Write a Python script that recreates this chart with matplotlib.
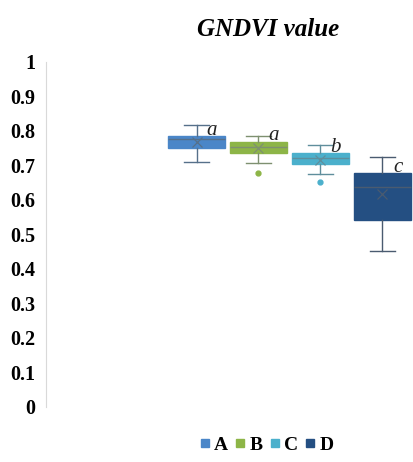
import matplotlib
matplotlib.use("Agg")
import matplotlib.pyplot as plt
from matplotlib.lines import Line2D

# Box-plot summaries for each group
groups = ["A", "B", "C", "D"]
whisker_low = [0.708, 0.707, 0.674, 0.452]
q1 = [0.749, 0.734, 0.703, 0.541]
median = [0.775, 0.752, 0.720, 0.636]
q3 = [0.785, 0.768, 0.734, 0.677]
whisker_high = [0.817, 0.785, 0.759, 0.723]
means = [0.766, 0.750, 0.715, 0.616]
outliers = [[], [0.678], [0.650], []]
letters = ["a", "a", "b", "c"]
y_ticks = [0, 0.1, 0.2, 0.3, 0.4, 0.5, 0.6, 0.7, 0.8, 0.9, 1]
y_tick_labels = ["0", "0.1", "0.2", "0.3", "0.4", "0.5", "0.6", "0.7", "0.8", "0.9", "1"]

fill_colors = ["#4a86c8", "#8db547", "#4bb0cc", "#244f82"]
line_colors = ["#56708a", "#7e9070", "#5f8e9c", "#4a5b70"]

fig = plt.figure(figsize=(4.14, 4.62), dpi=100)
ax = fig.add_axes([46 / 414, 55.3 / 462, 368 / 414, 345 / 462])

positions = [1, 2, 3, 4]
for i, g in enumerate(groups):
    stats = [dict(label=g, whislo=whisker_low[i], q1=q1[i], med=median[i],
                  q3=q3[i], whishi=whisker_high[i], mean=means[i],
                  fliers=outliers[i])]
    ax.bxp(stats, positions=[positions[i]], widths=0.92, patch_artist=True,
           showmeans=True, showfliers=True,
           boxprops=dict(facecolor=fill_colors[i], edgecolor=fill_colors[i],
                         linewidth=1.0),
           medianprops=dict(color=line_colors[i], linewidth=1.0),
           whiskerprops=dict(color=line_colors[i], linewidth=1.0),
           capprops=dict(color=line_colors[i], linewidth=1.0),
           meanprops=dict(marker="x", markeredgecolor=line_colors[i],
                          markersize=7, markeredgewidth=0.9),
           flierprops=dict(marker="o", markerfacecolor=fill_colors[i],
                           markeredgecolor=fill_colors[i], markersize=3.5),
           capwidths=0.4)
    # significance letter just above the upper quartile, right of the whisker
    ax.text(positions[i] + 0.25, q3[i] + 0.017, letters[i],
            fontsize=15, fontstyle="italic", family="Liberation Serif",
            ha="center", va="center", color="#222222")

ax.set_ylim(0, 1)
ax.set_xlim(-1.43, 4.51)
ax.set_yticks(y_ticks)
ax.set_yticklabels(y_tick_labels, family="Liberation Serif",
                   fontweight="bold", fontsize=14.5)
ax.set_xticks([])
ax.tick_params(axis="y", length=0, pad=8)
for side in ["top", "right", "bottom"]:
    ax.spines[side].set_visible(False)
ax.spines["left"].set_color("#d9d9d9")
ax.spines["left"].set_linewidth(0.8)

fig.text(268 / 414, 1 - 30 / 462, "GNDVI value", family="Liberation Serif",
         fontweight="bold", fontstyle="italic", fontsize=18,
         ha="center", va="center")

handles = [Line2D([], [], linestyle="none", marker="s", markersize=5.5,
                  markerfacecolor=c, markeredgecolor=c) for c in fill_colors]
fig.legend(handles, groups, loc="center", bbox_to_anchor=(267 / 414, 1 - 445 / 462),
           ncol=4, frameon=False, handlelength=0.45, handletextpad=0.25,
           columnspacing=0.4, borderpad=0, prop=dict(family="Liberation Serif",
                                                     weight="bold", size=14))

fig.savefig("out.png", dpi=100)
